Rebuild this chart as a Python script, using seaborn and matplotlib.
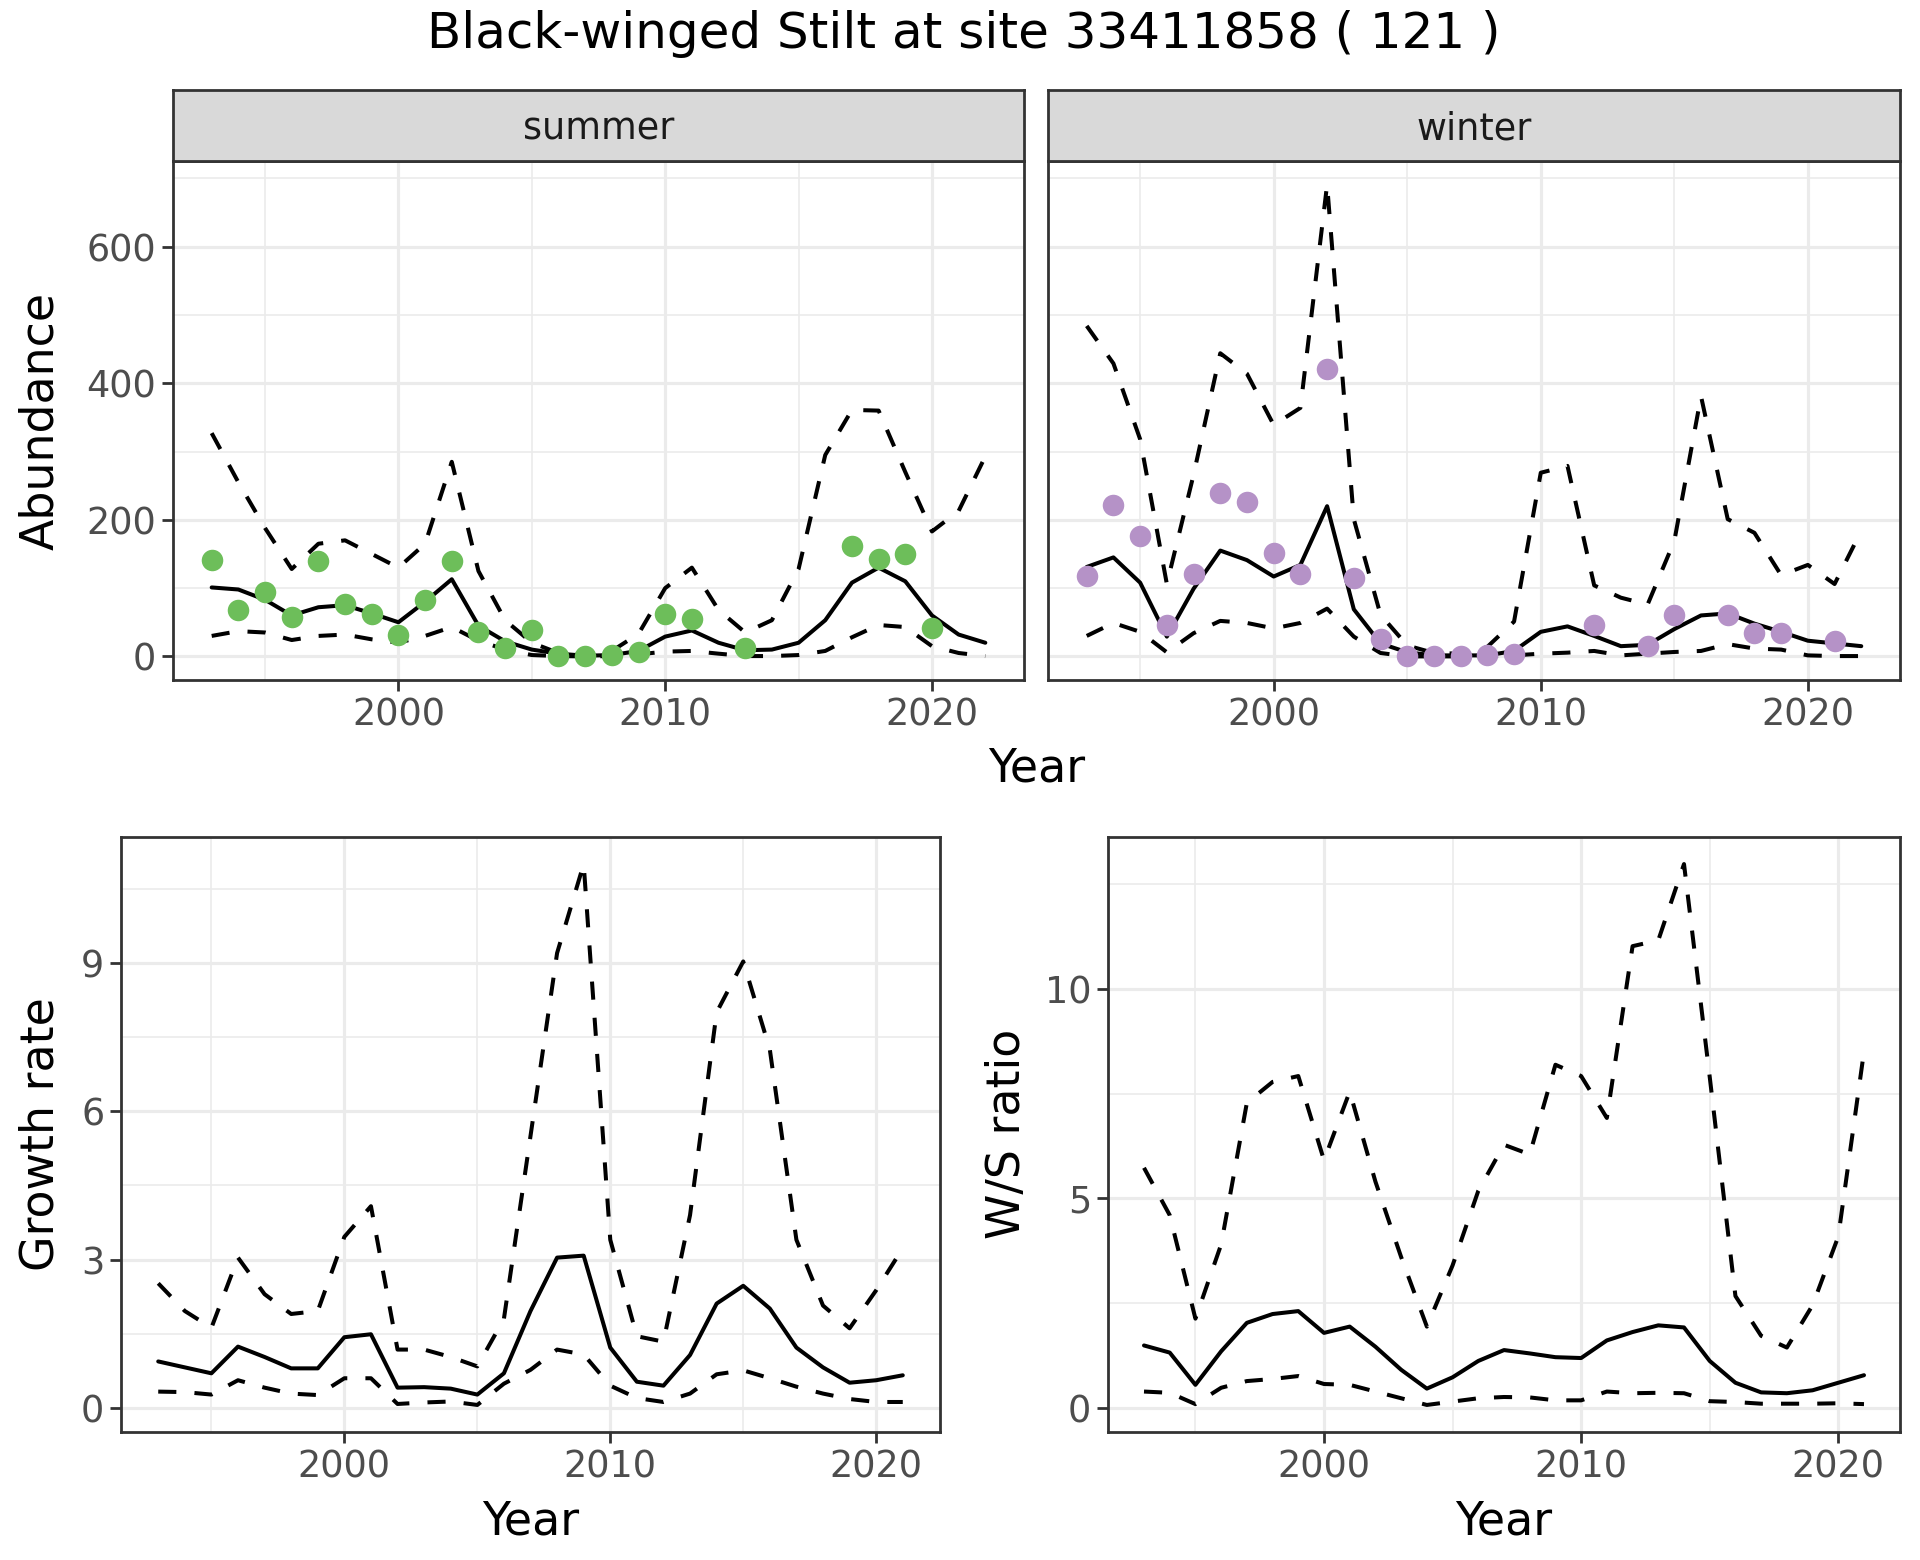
import numpy as np
import pandas as pd
import seaborn as sns
import matplotlib.pyplot as plt
from matplotlib.ticker import MultipleLocator

nan = np.nan

years = list(range(1993, 2023))
ratio_years = list(range(1993, 2022))

# abundance, summer
summer_counts = [141, 68, 95, 57, 140, 77, 62, 32, 82, 139, 36, 13, 38, 0, 0,
                 2, 7, 62, 55, nan, 13, nan, nan, nan, 162, 143, 150, 42, nan, nan]
summer_mean = [101, 98, 83, 60, 72, 75, 63, 50, 80, 113, 45, 22, 10, 4, 1,
               2, 8, 29, 38, 20, 9, 10, 20, 53, 108, 130, 110, 60, 32, 20]
summer_upper = [327, 255, 188, 128, 165, 170, 150, 130, 165, 285, 125, 53, 20, 5, 3,
                8, 33, 100, 130, 68, 35, 53, 128, 295, 361, 360, 270, 183, 213, 293]
summer_lower = [30, 37, 35, 24, 30, 32, 25, 20, 30, 43, 23, 10, 2, 0.5, 0,
                0.5, 3, 7, 8, 4, 0.5, 0.5, 2, 8, 28, 46, 43, 15, 5, 0.5]

# abundance, winter
winter_counts = [118, 222, 176, 46, 120, 239, 226, 151, 121, 421, 115, 26, 0, 0, 0,
                 2, 4, nan, nan, 46, nan, 15, 61, nan, 61, 34, 35, nan, 22, nan]
winter_mean = [131, 145, 108, 29, 99, 155, 141, 117, 134, 220, 69, 19, 6, 1.5, 1.5,
               1.5, 8, 36, 44, 30, 15, 17, 40, 60, 63, 48, 36, 23, 19, 15]
winter_upper = [484, 429, 318, 106, 266, 444, 414, 339, 364, 691, 201, 61, 16, 5, 4,
                14, 51, 269, 279, 104, 86, 76, 169, 381, 201, 181, 119, 134, 106, 184]
winter_lower = [30, 49, 36, 6, 34, 52, 49, 41, 49, 70, 29, 5, 0, 0, 0,
                0, 1.5, 4, 5.5, 8, 1.5, 4, 6.5, 8, 18, 11.5, 10, 1.5, 0.5, 0.5]

# growth rate
growth_mean = [0.94, 0.82, 0.70, 1.24, 1.03, 0.80, 0.80, 1.43, 1.49, 0.41, 0.42, 0.39, 0.27, 0.70, 1.96,
               3.04, 3.08, 1.22, 0.53, 0.45, 1.07, 2.11, 2.47, 2.01, 1.22, 0.82, 0.51, 0.56, 0.66]
growth_upper = [2.52, 1.96, 1.62, 3.04, 2.30, 1.90, 1.96, 3.46, 4.08, 1.18, 1.18, 1.03, 0.84, 1.80, 5.5,
                9.2, 11.0, 3.4, 1.45, 1.34, 3.9, 8.0, 9.03, 7.25, 3.4, 2.07, 1.61, 2.38, 3.23]
growth_lower = [0.33, 0.32, 0.27, 0.56, 0.41, 0.29, 0.26, 0.60, 0.60, 0.08, 0.11, 0.13, 0.06, 0.49, 0.77,
                1.18, 1.08, 0.45, 0.20, 0.12, 0.29, 0.68, 0.76, 0.60, 0.43, 0.29, 0.18, 0.12, 0.12]

# winter / summer ratio
ratio_mean = [1.49, 1.32, 0.55, 1.35, 2.03, 2.24, 2.31, 1.79, 1.94, 1.46, 0.91, 0.46, 0.73, 1.12, 1.38,
              1.30, 1.21, 1.19, 1.61, 1.81, 1.97, 1.92, 1.12, 0.60, 0.37, 0.35, 0.42, 0.60, 0.78]
ratio_upper = [5.73, 4.6, 2.13, 3.9, 7.28, 7.78, 7.92, 5.91, 7.55, 5.4, 3.6, 1.94, 3.4, 5.18, 6.28,
               6.05, 8.19, 7.92, 6.92, 11.02, 11.16, 12.98, 7.9, 2.67, 1.72, 1.44, 2.45, 4.09, 8.51]
ratio_lower = [0.39, 0.36, 0.09, 0.48, 0.64, 0.69, 0.76, 0.57, 0.55, 0.39, 0.23, 0.07, 0.15, 0.23, 0.26,
               0.25, 0.18, 0.18, 0.39, 0.35, 0.36, 0.35, 0.16, 0.14, 0.10, 0.10, 0.10, 0.11, 0.09]

title = "Black-winged Stilt at site 33411858 ( 121 )"

sns.set_theme(style="white")
plt.rcParams["font.family"] = ["DejaVu Sans"]

W, H = 1920, 1560
fig = plt.figure(figsize=(W / 100, H / 100), dpi=100)
fig.patch.set_facecolor("white")


def px_axes(left, top, right, bottom):
    return fig.add_axes([left / W, 1 - bottom / H, (right - left) / W, (bottom - top) / H])


def expand(lo, hi, f=0.05):
    r = hi - lo
    return lo - f * r, hi + f * r


LW = 2.9
DASH = (0, (4.5, 4.5))


def draw_band(ax, x, mean, upper, lower):
    df = pd.DataFrame({"year": x, "mean": mean, "upper": upper, "lower": lower})
    sns.lineplot(data=df, x="year", y="upper", ax=ax, color="black", linewidth=LW,
                 linestyle=DASH, dash_capstyle="butt")
    sns.lineplot(data=df, x="year", y="lower", ax=ax, color="black", linewidth=LW,
                 linestyle=DASH, dash_capstyle="butt")
    sns.lineplot(data=df, x="year", y="mean", ax=ax, color="black", linewidth=LW)


def style_panel(ax, ymajor, yminor, xlim, ylim, show_y=True):
    ax.set_facecolor("white")
    ax.set_xlim(*xlim)
    ax.set_ylim(*ylim)
    ax.xaxis.set_major_locator(MultipleLocator(10))
    ax.xaxis.set_minor_locator(MultipleLocator(5))
    ax.yaxis.set_major_locator(MultipleLocator(ymajor))
    ax.yaxis.set_minor_locator(MultipleLocator(yminor))
    ax.grid(which="major", color="#EBEBEB", linewidth=2.3)
    ax.grid(which="minor", color="#EBEBEB", linewidth=1.2)
    ax.set_axisbelow(True)
    for s in ax.spines.values():
        s.set_visible(True)
        s.set_color("#333333")
        s.set_linewidth(2.0)
    ax.tick_params(which="major", length=8, width=2.0, color="#333333",
                   labelsize=26.4, labelcolor="#4D4D4D", pad=4,
                   bottom=True, left=show_y, labelleft=show_y)
    ax.tick_params(which="minor", length=0)
    ax.set_xlabel("")
    ax.set_ylabel("")


def strip(left, right, top, bottom, label):
    sa = px_axes(left, top, right, bottom)
    sa.set_facecolor("#D9D9D9")
    sa.set_xticks([])
    sa.set_yticks([])
    for s in sa.spines.values():
        s.set_visible(True)
        s.set_color("#333333")
        s.set_linewidth(2.0)
    sa.text(0.5, 0.45, label, ha="center", va="center", fontsize=26.4,
            color="#1A1A1A", transform=sa.transAxes)


# top row: abundance by season
top_y = expand(0, max(max(summer_upper), max(winter_upper)))
top_x = expand(min(years), max(years))
panels = [
    ("summer", 173, 1024, summer_counts, summer_mean, summer_upper, summer_lower, "#6DBE5A"),
    ("winter", 1048, 1900, winter_counts, winter_mean, winter_upper, winter_lower, "#B592C7"),
]
for i, (name, l, r, counts, m, u, lo, col) in enumerate(panels):
    ax = px_axes(l, 161, r, 680)
    draw_band(ax, years, m, u, lo)
    pts = pd.DataFrame({"year": years, "count": counts}).dropna()
    sns.scatterplot(data=pts, x="year", y="count", ax=ax, color=col, s=240,
                    linewidth=0, zorder=4)
    style_panel(ax, 200, 100, top_x, top_y, show_y=(i == 0))
    strip(l, r, 90, 161, name)

# bottom row
bot_x = expand(min(ratio_years), max(ratio_years))
ax = px_axes(121, 837, 940, 1432)
draw_band(ax, ratio_years, growth_mean, growth_upper, growth_lower)
style_panel(ax, 3, 1.5, bot_x, expand(min(growth_lower), max(growth_upper)))

ax = px_axes(1108, 837, 1900, 1432)
draw_band(ax, ratio_years, ratio_mean, ratio_upper, ratio_lower)
style_panel(ax, 5, 2.5, bot_x, expand(min(ratio_lower), max(ratio_upper)))

# labels
def ftext(x, y, s, size, rot=0):
    fig.text(x / W, 1 - y / H, s, ha="center", va="center", fontsize=size,
             rotation=rot, color="black")


ftext(964, 34, title, 36)
ftext(41, 421, "Abundance", 33, 90)
ftext(1037, 769, "Year", 33)
ftext(41, 1134, "Growth rate", 33, 90)
ftext(1007, 1134, "W/S ratio", 33, 90)
ftext(531, 1522, "Year", 33)
ftext(1504, 1522, "Year", 33)

fig.savefig("out.png", dpi=100, facecolor="white")
